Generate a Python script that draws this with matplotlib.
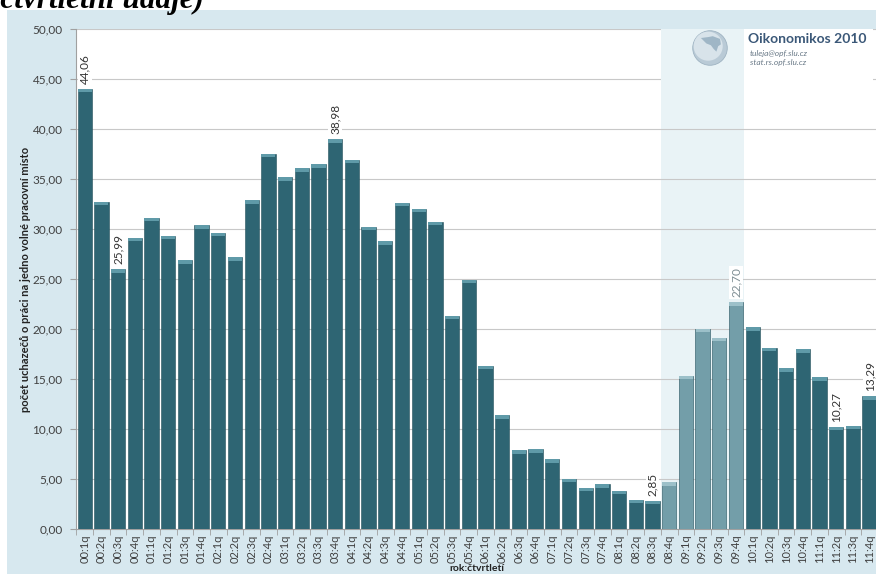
import numpy as np
import matplotlib
matplotlib.use("Agg")
import matplotlib.pyplot as plt
from matplotlib.patches import Rectangle, Circle, Polygon

# quarters 2000 - 2011
years = ["%02d" % y for y in range(12)]
quarters = [y + ":" + str(q) + "q" for y in years for q in range(1, 5)]

values = [44.06, 32.76, 25.99, 29.16, 31.16, 29.36, 26.93, 30.43,
          29.66, 27.20, 32.90, 37.56, 35.20, 36.10, 36.50, 38.98,
          36.93, 30.26, 28.83, 32.66, 32.03, 30.73, 21.36, 24.93,
          16.36, 11.43, 7.93, 8.03, 7.03, 5.06, 4.16, 4.53,
          3.86, 2.95, 2.85, 4.70, 15.36, 20.03, 19.16, 22.70,
          20.20, 18.16, 16.10, 18.00, 15.20, 10.27, 10.36, 13.29]

crisis = ["08:4q", "09:1q", "09:2q", "09:3q", "09:4q"]
labelled = ["00:1q", "00:3q", "03:4q", "08:3q", "09:4q", "11:2q", "11:4q"]

dark = "#2e6573"
dark_cap = "#5f9aa8"
light = "#739ea9"
light_cap = "#9cc0c9"
band = "#e9f3f6"
bg = "#d7e8ef"

plt.rcParams["font.family"] = ["Lato", "DejaVu Sans"]

fig = plt.figure(figsize=(8.76, 5.74), dpi=100, facecolor="white")
fig.patches.append(Rectangle((7 / 876, 0), 1, 1 - 10 / 574, transform=fig.transFigure,
                             facecolor=bg, edgecolor="none", zorder=-10))

ax = fig.add_axes([76.35 / 876, 44.7 / 574, 801.6 / 876, 500 / 574])
ax.set_facecolor("white")

x = np.arange(len(quarters))
cols = [light if q in crisis else dark for q in quarters]
caps = [light_cap if q in crisis else dark_cap for q in quarters]

ci = [quarters.index(q) for q in crisis]
ax.axvspan(ci[0] - 0.5, ci[-1] + 0.5, color=band, zorder=0.1, lw=0)

ax.bar(x, values, width=0.86, color=cols, edgecolor="#24515c", linewidth=0.4, zorder=3)
v = np.array(values)
ax.bar(x, 0.35, bottom=v - 0.35, width=0.84, color=caps, linewidth=0, zorder=3.5)

for q in labelled:
    i = quarters.index(q)
    c = "#7d8d93" if q in crisis else "#333333"
    ax.text(i, values[i] + 0.5, ("%.2f" % values[i]).replace(".", ","), rotation=90,
            ha="center", va="bottom", fontsize=8.5, color=c, zorder=4,
            bbox=dict(facecolor="white", edgecolor="none", pad=1.0))

ax.set_xlim(-0.5, len(quarters) - 0.5)
ax.set_ylim(0, 50)
yt = np.arange(0, 51, 5)
ax.set_yticks(yt)
ax.set_yticklabels([("%.2f" % t).replace(".", ",") for t in yt], fontsize=8.5, color="#404040")
ax.set_xticks(x)
ax.set_xticklabels(quarters, rotation=90, fontsize=8, color="#404040")
ax.set_xticks(np.arange(-0.5, len(quarters), 1), minor=True)
ax.tick_params(axis="x", which="major", length=0, pad=4)
ax.tick_params(axis="x", which="minor", length=4, color="#a0a0a0")
ax.tick_params(axis="y", length=4, color="#a0a0a0", pad=6)

ax.set_axisbelow(True)
ax.grid(axis="y", color="#c8c8c8", linewidth=0.8, zorder=0.5)
for s in ["top", "right"]:
    ax.spines[s].set_visible(False)
for s in ["left", "bottom"]:
    ax.spines[s].set_color("#a0a0a0")

ax.set_ylabel("počet uchazečů o práci na jedno volné pracovní místo", fontsize=8,
              fontweight="bold", color="#222222")
ax.yaxis.set_label_coords(-0.0566, 0.5)
fig.text(477 / 876, 1 - 564 / 574, "rok:čtvrtletí", ha="center", va="top",
         fontsize=7.5, fontweight="bold", color="#222222")

# logo box hides the top gridline
ax.add_patch(Rectangle((ci[0] - 0.5, 43), 12.7, 7, facecolor="white", edgecolor="none", zorder=1))
ax.add_patch(Rectangle((ci[0] - 0.5, 43), len(ci), 7, facecolor=band, edgecolor="none", zorder=1.1))

lax = fig.add_axes([690 / 876, 1 - 68 / 574, 40 / 876, 40 / 574])
lax.set_xlim(-1.1, 1.1)
lax.set_ylim(-1.1, 1.1)
lax.set_aspect("equal")
lax.axis("off")
lax.add_patch(Circle((0, 0), 0.95, facecolor="#b9cad6", edgecolor="#9fb3c2", lw=0.6))
lax.add_patch(Circle((-0.1, 0.1), 0.8, facecolor="#d8e3ea", edgecolor="none"))
lax.add_patch(Polygon([(-0.5, 0.55), (-0.1, 0.6), (0.15, 0.65), (0.55, 0.5), (0.6, 0.2),
                       (0.45, 0.1), (0.35, -0.2), (0.2, -0.05), (0.05, 0.15), (-0.2, 0.25)],
                      facecolor="#9fb6c6", edgecolor="none"))

fig.text(748 / 876, 1 - 43 / 574, "Oikonomikos 2010", fontsize=10, fontweight="bold",
         color="#3b5878", va="baseline")
fig.text(750 / 876, 1 - 56 / 574, "tuleja@opf.slu.cz", fontsize=6, style="italic",
         color="#6a7a88", va="baseline")
fig.text(750 / 876, 1 - 65 / 574, "stat.rs.opf.slu.cz", fontsize=6, style="italic",
         color="#6a7a88", va="baseline")

fig.text(-10 / 876, 1 - 8 / 574, "(čtvrtletní údaje)", fontsize=22.5, fontweight="bold",
         style="italic", family="Liberation Serif", va="baseline", ha="left")

fig.savefig("out.png", dpi=100, facecolor="white")
